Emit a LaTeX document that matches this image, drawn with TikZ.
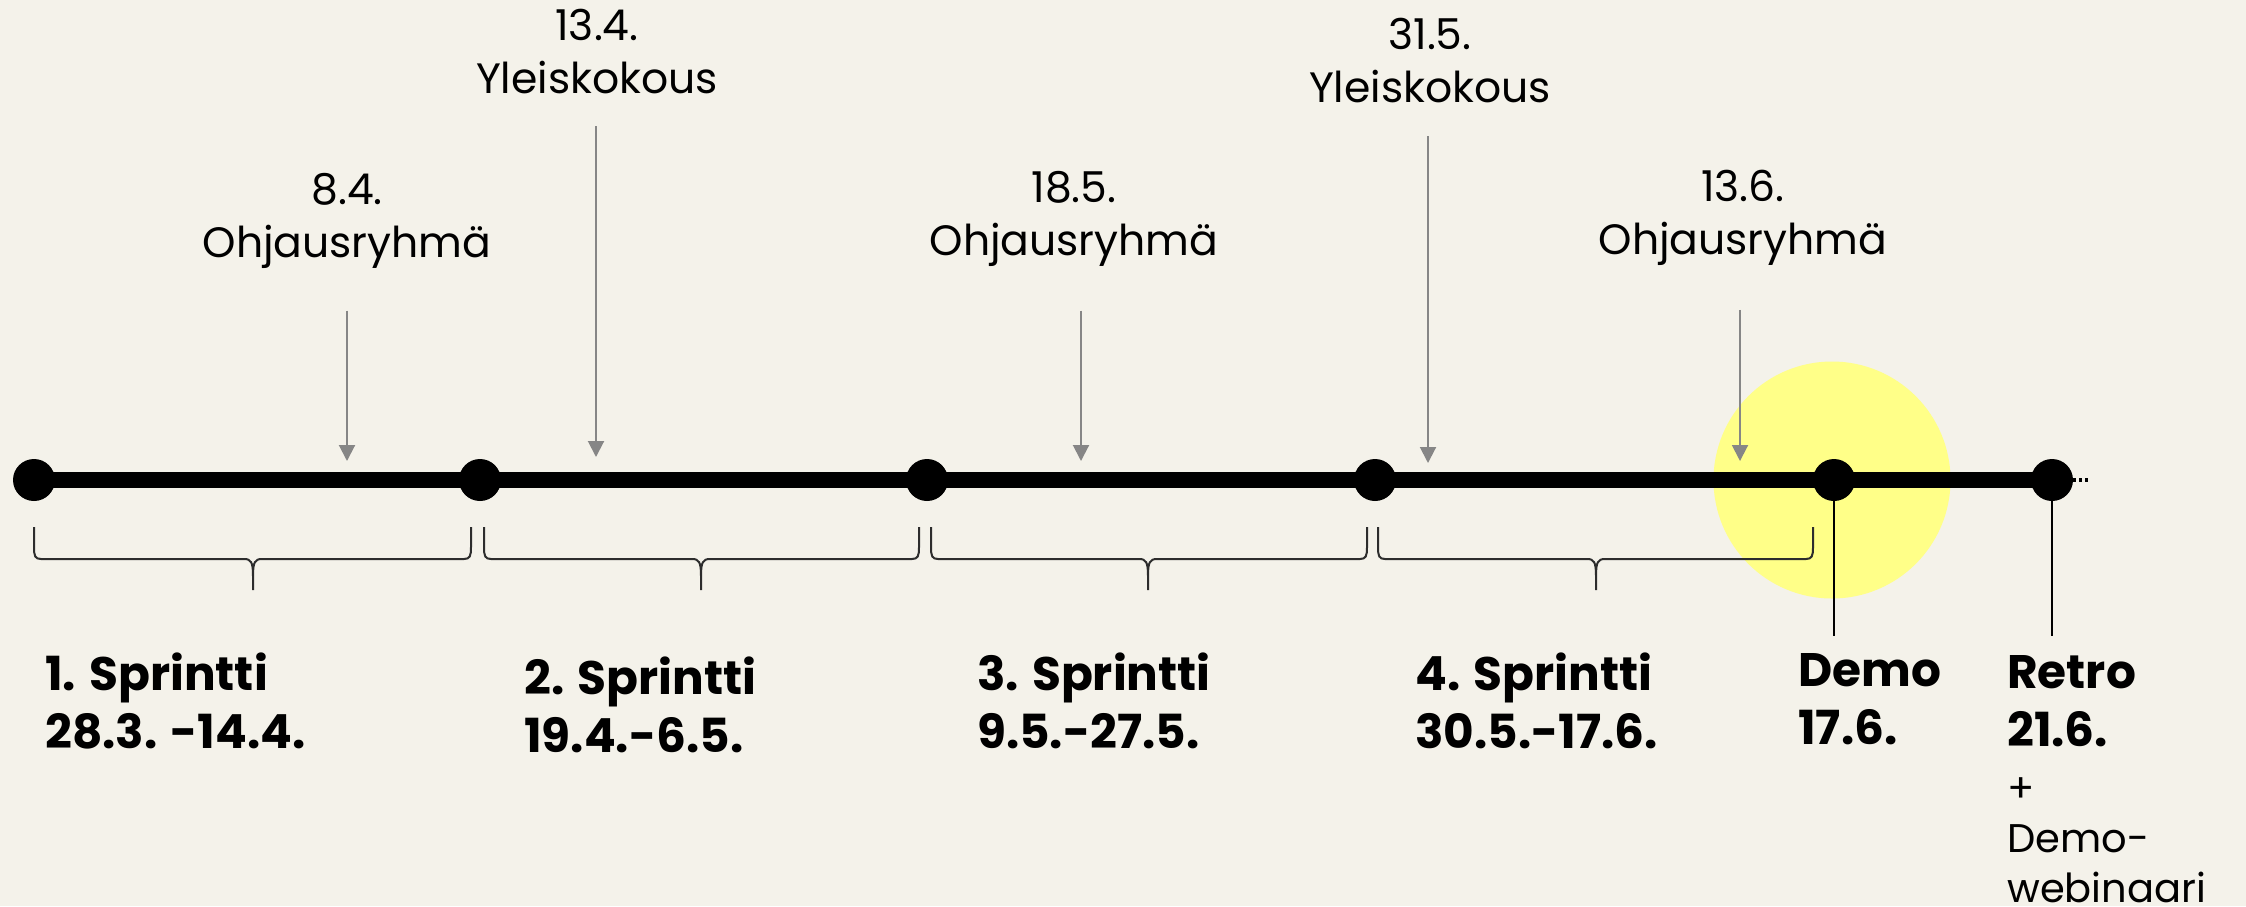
\documentclass[tikz,border=0pt]{standalone}
\usepackage{fontspec}
\setmainfont{Poppins}
\usetikzlibrary{arrows.meta}
\definecolor{paper}{RGB}{244,242,234}
\definecolor{marker}{RGB}{255,255,136}
\definecolor{arrowgray}{RGB}{134,134,134}
\definecolor{bracegray}{RGB}{45,45,45}

\begin{document}
\begin{tikzpicture}[x=1pt, y=1pt,
  tick/.style = {shape=circle, fill=black, minimum size=42pt, inner sep=0pt},
  meet/.style = {align=center, anchor=north, inner sep=0pt,
    font=\fontsize{42.5}{53}\selectfont},
  sprint/.style = {align=left, anchor=north west, inner sep=0pt,
    font=\bfseries\fontsize{47}{58}\selectfont},
  note/.style = {align=left, anchor=north west, inner sep=0pt,
    font=\fontsize{40}{50}\selectfont},
  meetarrow/.style = {draw=arrowgray, line width=2pt,
    -{Triangle[width=16pt,length=16pt]}},
  sprintbrace/.style = {draw=bracegray, line width=2pt},
  timeline/.style = {line width=16pt}]
  \fill[paper] (0,0) rectangle (2246,-906);
  \useasboundingbox (0,0) rectangle (2246,-906);

  % highlight behind the demo
  \node[shape=circle, fill=marker, minimum size=237pt, inner sep=0pt] (glow) at (1832,-480) {};

  % time line
  \node[tick] (d1) at (34,-480) {};
  \node[tick] (d2) at (480,-480) {};
  \node[tick] (d3) at (927,-480) {};
  \node[tick] (d4) at (1375,-480) {};
  \node[tick] (d5) at (1834,-480) {};
  \node[tick] (d6) at (2052,-480) {};
  \coordinate (tlend) at (2090,-480);
  \draw[timeline] (d1.center) -- (d6.center);
  \draw[line width=4pt, dash pattern=on 3pt off 3pt] (d6.east) -- (tlend);

  % meetings
  \node[meet] (m84) at (347,-173) {8.4.\\Ohjausryhmä};
  \node[meet] (m134) at (597,-9) {13.4.\\Yleiskokous};
  \node[meet] (m185) at (1074,-171) {18.5.\\Ohjausryhmä};
  \node[meet] (m315) at (1430,-18) {31.5.\\Yleiskokous};
  \node[meet] (m136) at (1743,-170) {13.6.\\Ohjausryhmä};
  \coordinate (t84) at (347,-461);
  \coordinate (t134) at (596,-457);
  \coordinate (t185) at (1081,-461);
  \coordinate (t315) at (1428,-463);
  \coordinate (t136) at (1740,-461);
  \draw[meetarrow, shorten <=42pt] (m84.south -| t84) -- (t84);
  \draw[meetarrow, shorten <=32pt] (m134.south -| t134) -- (t134);
  \draw[meetarrow, shorten <=44pt] (m185.south -| t185) -- (t185);
  \draw[meetarrow, shorten <=33pt] (m315.south -| t315) -- (t315);
  \draw[meetarrow, shorten <=44pt] (m136.south -| t136) -- (t136);

  % sprint braces
  \foreach \xa/\xm/\xb in {34/253/471, 484/701/919, 931/1148/1367, 1378/1596/1813}
    \draw[sprintbrace] (\xa,-527) -- (\xa,-547)
      .. controls (\xa,-556) and (\xa+1,-559) .. (\xa+7,-559) -- (\xm-9,-559)
      .. controls (\xm-2,-559) and (\xm,-562) .. (\xm,-576) -- (\xm,-590)
      -- (\xm,-576) .. controls (\xm,-562) and (\xm+2,-559) .. (\xm+9,-559)
      -- (\xb-7,-559) .. controls (\xb-1,-559) and (\xb,-556) .. (\xb,-547)
      -- (\xb,-527);

  % sprints and events
  \node[sprint] (s1) at (45,-653) {1. Sprintti\\28.3. -14.4.};
  \node[sprint] (s2) at (524,-657) {2. Sprintti\\19.4.-6.5.};
  \node[sprint] (s3) at (977,-653) {3. Sprintti\\9.5.-27.5.};
  \node[sprint] (s4) at (1415,-653) {4. Sprintti\\30.5.-17.6.};
  \node[sprint] (demo) at (1798,-653) {Demo\\17.6.};
  \node[sprint] (retro) at (2007,-655) {Retro\\21.6.};
  \node[note] (webinar) at (2007,-777) {+\\Demo-\\webinaari};
  \coordinate (demoend) at (1834,-636);
  \coordinate (retroend) at (2052,-636);
  \draw[line width=2pt] (d5.center) -- (demoend);
  \draw[line width=2pt] (d6.center) -- (retroend);
\end{tikzpicture}
\end{document}
